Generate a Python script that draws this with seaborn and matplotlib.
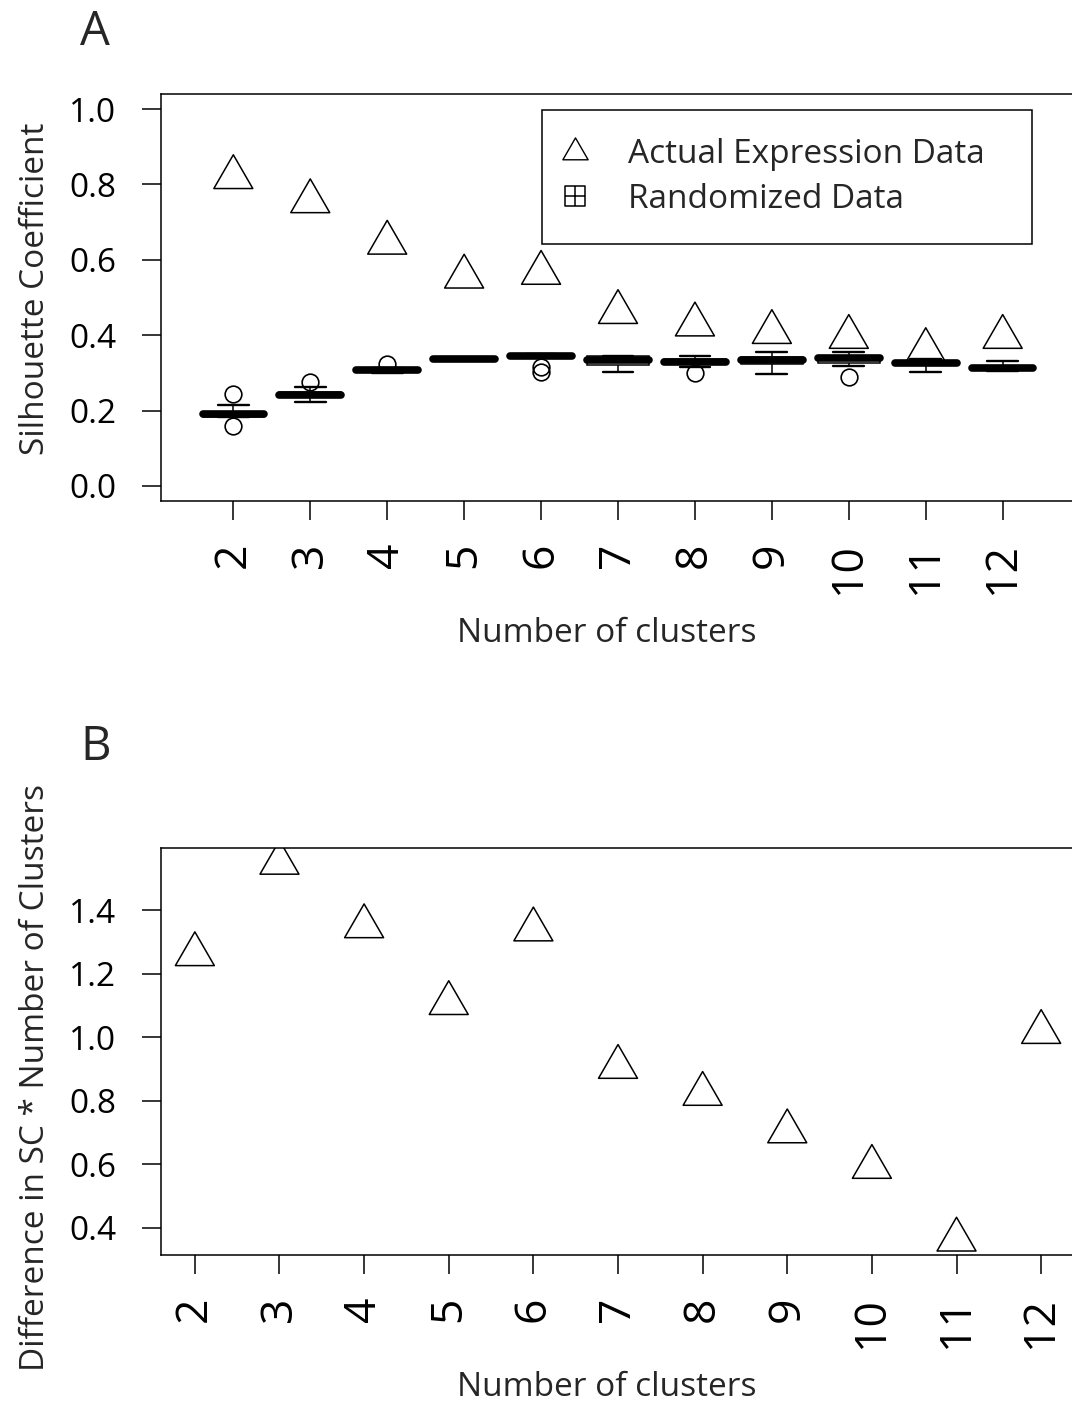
import numpy as np
import pandas as pd
import matplotlib
matplotlib.use("Agg")
import matplotlib.pyplot as plt
import seaborn as sns
from matplotlib.path import Path
from matplotlib.lines import Line2D

# ---------------- data ----------------
clusters = [2, 3, 4, 5, 6, 7, 8, 9, 10, 11, 12]
cluster_labels = [str(k) for k in clusters]

# Panel A: silhouette coefficient of the actual expression data
actual_sc = [0.819, 0.755, 0.645, 0.555, 0.565, 0.461, 0.428, 0.408, 0.395, 0.360, 0.395]

# Panel A: silhouette coefficients of randomized data
rand_k2 = [0.158, 0.182, 0.184, 0.188, 0.190, 0.192, 0.197, 0.215, 0.245]
rand_k3 = [0.223, 0.230, 0.236, 0.239, 0.241, 0.245, 0.250, 0.263, 0.277]
rand_k4 = [0.300, 0.302, 0.304, 0.306, 0.308, 0.309, 0.311, 0.313, 0.323]
rand_k5 = [0.333, 0.334, 0.335, 0.335, 0.336, 0.336, 0.337, 0.337, 0.338]
rand_k6 = [0.302, 0.316, 0.344, 0.345, 0.346, 0.347, 0.348, 0.349, 0.350]
rand_k7 = [0.302, 0.310, 0.320, 0.330, 0.335, 0.340, 0.344, 0.345, 0.346]
rand_k8 = [0.300, 0.315, 0.323, 0.327, 0.330, 0.333, 0.337, 0.341, 0.345]
rand_k9 = [0.296, 0.312, 0.323, 0.330, 0.334, 0.338, 0.343, 0.350, 0.355]
rand_k10 = [0.290, 0.318, 0.326, 0.333, 0.339, 0.340, 0.341, 0.348, 0.355]
rand_k11 = [0.303, 0.312, 0.320, 0.323, 0.326, 0.329, 0.332, 0.335, 0.337]
rand_k12 = [0.305, 0.306, 0.307, 0.310, 0.313, 0.315, 0.318, 0.325, 0.332]
random_sc = [rand_k2, rand_k3, rand_k4, rand_k5, rand_k6, rand_k7,
             rand_k8, rand_k9, rand_k10, rand_k11, rand_k12]

# Panel B: difference in SC * number of clusters
diff_sc_k = [1.261, 1.549, 1.349, 1.107, 1.339, 0.906, 0.821, 0.703, 0.591, 0.362, 1.016]

yticks_a = [0.0, 0.2, 0.4, 0.6, 0.8, 1.0]
yticks_b = [0.4, 0.6, 0.8, 1.0, 1.2, 1.4]

# ---------------- style ----------------
sns.set_style("ticks")
plt.rcParams['font.family'] = ['Open Sans', 'DejaVu Sans']
FS = 24
XFS = 32
LW = 1.1

W, H = 1072, 1404
fig = plt.figure(figsize=(W / 100, H / 100), dpi=100)

def px_axes(left, top, right, bottom):
    return fig.add_axes([left / W, 1 - bottom / H, (right - left) / W, (bottom - top) / H])

ax1 = px_axes(161, 94, 1075, 501)
ax2 = px_axes(161, 848, 1075, 1255)

tri = Path([(0, 1), (-0.866, -0.5), (0.866, -0.5), (0, 1)],
           [Path.MOVETO, Path.LINETO, Path.LINETO, Path.CLOSEPOLY])
sqplus = Path([(-1, -1), (1, -1), (1, 1), (-1, 1), (-1, -1), (0, -1), (0, 1), (-1, 0), (1, 0)],
              [Path.MOVETO, Path.LINETO, Path.LINETO, Path.LINETO, Path.CLOSEPOLY,
               Path.MOVETO, Path.LINETO, Path.MOVETO, Path.LINETO])

# ---------------- panel A ----------------
df_rand = pd.DataFrame({
    "k": [lab for lab, vals in zip(cluster_labels, random_sc) for _ in vals],
    "sc": [v for vals in random_sc for v in vals],
})

sns.boxplot(data=df_rand, x="k", y="sc", order=cluster_labels, ax=ax1,
            color="white", saturation=1, linecolor="black", linewidth=LW,
            width=0.8, whis=1.5,
            medianprops=dict(linewidth=5.5, solid_capstyle="round", color="black"),
            capprops=dict(linewidth=1.7, color="black"),
            whiskerprops=dict(linewidth=LW, color="black"),
            flierprops=dict(marker="o", markersize=12, markerfacecolor="none",
                            markeredgecolor="black", markeredgewidth=1.2))

pos = np.arange(len(clusters))
sns.scatterplot(x=pos, y=actual_sc, ax=ax1, marker=tri, s=1050,
                color="black", facecolor="none", edgecolor="black",
                linewidth=LW, zorder=5, legend=False)

ax1.set_xlim(-0.94, len(clusters) - 1 + 0.94)
ax1.set_ylim(-0.04, 1.04)
ax1.set_xticks(pos)
ax1.set_xticklabels(cluster_labels, rotation=90)
ax1.set_yticks(yticks_a)
ax1.set_yticklabels([f"{v:.1f}" for v in yticks_a])
ax1.set_xlabel("Number of clusters", fontsize=FS)
ax1.set_ylabel("Silhouette Coefficient", fontsize=FS)

h_tri = Line2D([], [], linestyle="none", marker=tri, markersize=21,
               markerfacecolor="none", markeredgecolor="black", markeredgewidth=1.0)
h_sq = Line2D([], [], linestyle="none", marker=sqplus, markersize=14,
              markerfacecolor="none", markeredgecolor="black", markeredgewidth=1.1)
leg = ax1.legend([h_tri, h_sq], ["Actual Expression Data", "Randomized Data"],
                 loc="upper left", mode="expand",
                 bbox_to_anchor=((541.7 - 161) / 914, 0.6347, 490 / 914, 0.326),
                 borderaxespad=0, borderpad=0.85, handlelength=0.32, handletextpad=1.43,
                 labelspacing=0.35, fontsize=FS, frameon=True, fancybox=False,
                 edgecolor="black", framealpha=1)
leg.get_frame().set_linewidth(LW)

# ---------------- panel B ----------------
sns.scatterplot(x=clusters, y=diff_sc_k, ax=ax2, marker=tri, s=1050,
                color="black", facecolor="none", edgecolor="black",
                linewidth=LW, zorder=5, legend=False)
ax2.set_xlim(1.6, 12.4)
ax2.set_ylim(0.314, 1.596)
ax2.set_xticks(clusters)
ax2.set_xticklabels(cluster_labels, rotation=90)
ax2.set_yticks(yticks_b)
ax2.set_yticklabels([f"{v:.1f}" for v in yticks_b])
ax2.set_xlabel("Number of clusters", fontsize=FS)
ax2.set_ylabel("Difference in SC * Number of Clusters", fontsize=FS)

for ax in (ax1, ax2):
    for sp in ax.spines.values():
        sp.set_visible(True)
        sp.set_linewidth(LW)
        sp.set_color("black")
    ax.tick_params(axis="both", direction="out", length=14, width=LW, color="black",
                   labelsize=FS, labelcolor="black")
    ax.tick_params(axis="x", pad=16, labelsize=XFS)
    ax.tick_params(axis="y", pad=18)
    ax.grid(False)
    ax.set_facecolor("white")
    ax.xaxis.set_label_coords(0.488, -0.285)

ax1.yaxis.set_label_coords(-0.119, 0.521)
ax2.yaxis.set_label_coords(-0.119, 0.437)

fig.text(80 / W, 1 - 45 / H, "A", fontsize=34, ha="left", va="baseline")
fig.text(80 / W, 1 - 760 / H, "B", fontsize=34, ha="left", va="baseline")

fig.savefig("out.png", dpi=100, facecolor="white")
